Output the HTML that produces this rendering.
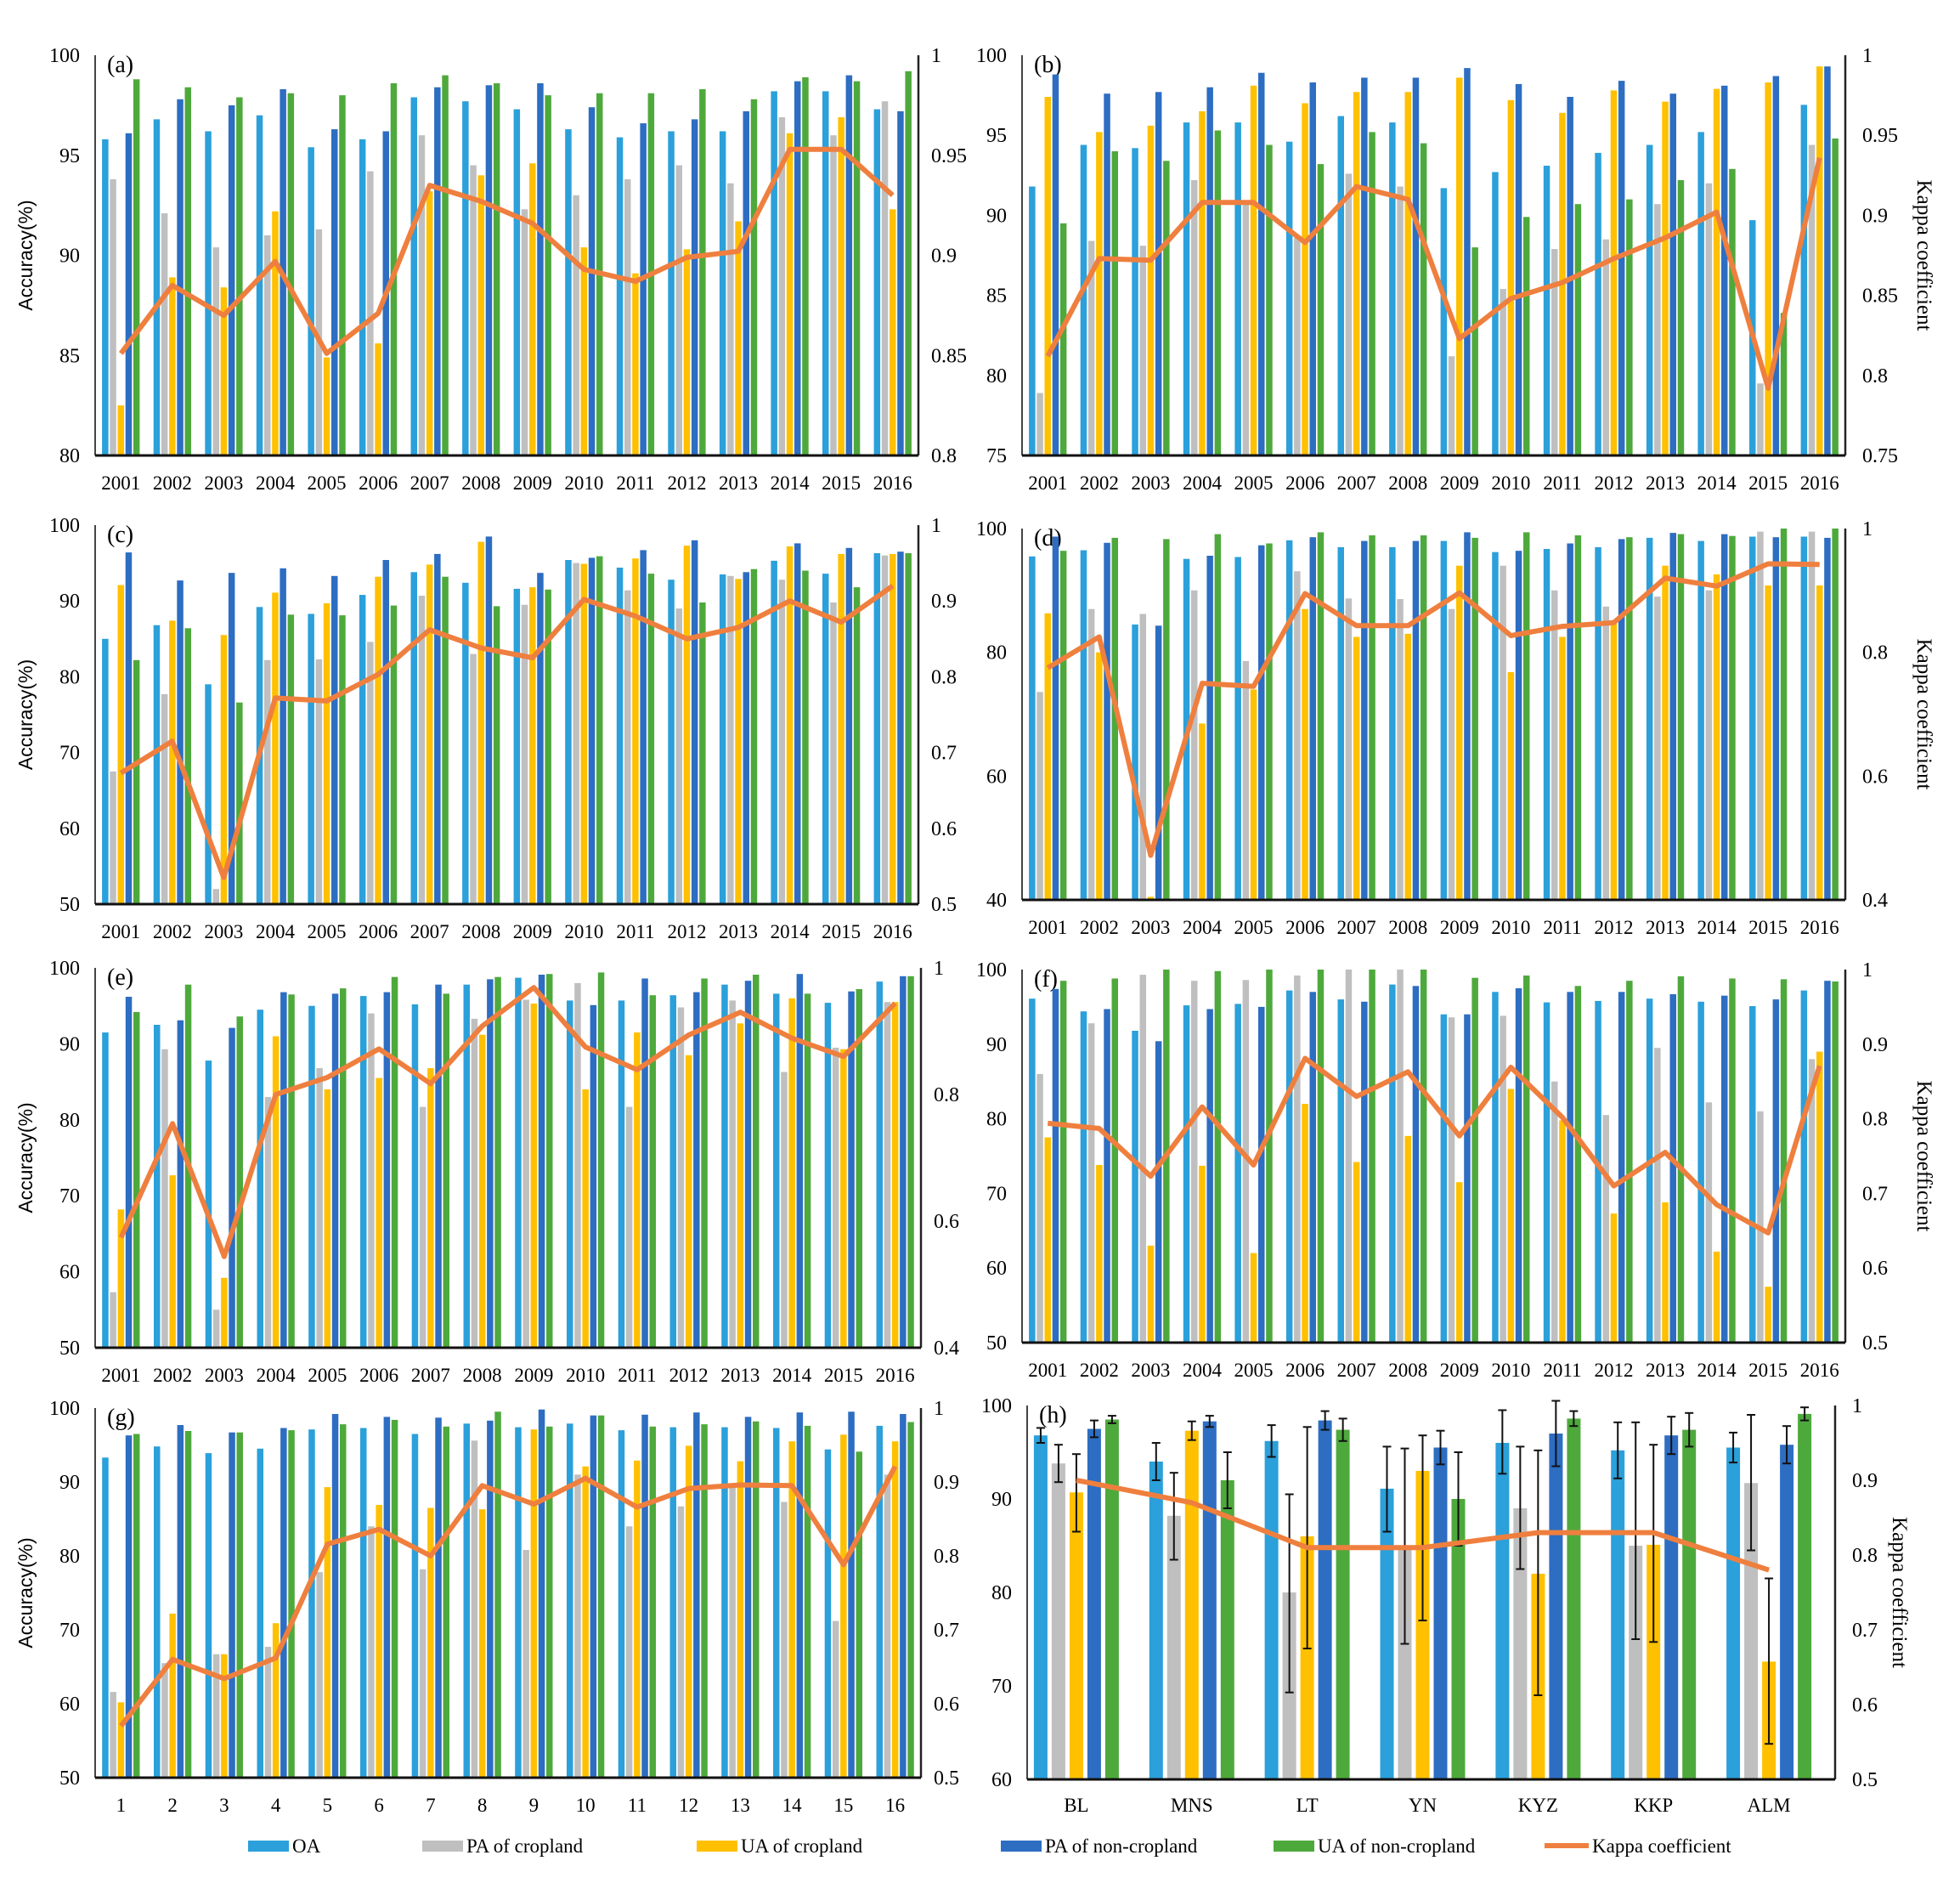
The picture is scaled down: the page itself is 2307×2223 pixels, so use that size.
<!DOCTYPE html>
<html><head><meta charset="utf-8"><style>
html,body{margin:0;padding:0;background:#fff;}
svg{display:block;}
</style></head><body>
<svg id="s" xmlns="http://www.w3.org/2000/svg" width="2307" height="2223" viewBox="0 0 2307 2223"></svg>
<script>
const C=['#2ba0da','#bfbfbf','#ffc000','#2d6dc2','#4ea93c'];
const K='#ef7f3e';
const years=[];for(let i=2001;i<=2016;i++)years.push(''+i);
const P=[
{lab:'(a)',x0:112,x1:1081,t:65,b:536,ymin:80,ymax:100,yt:[80,85,90,95,100],kmin:.8,kmax:1,kt:['0.8','0.85','0.9','0.95','1'],side:'L',cats:years,
d:[[95.8,96.8,96.2,97.0,95.4,95.8,97.9,97.7,97.3,96.3,95.9,96.2,96.2,98.2,98.2,97.3],
[93.8,92.1,90.4,91.0,91.3,94.2,96.0,94.5,92.3,93.0,93.8,94.5,93.6,96.9,96.0,97.7],
[82.5,88.9,88.4,92.2,84.9,85.6,93.2,94.0,94.6,90.4,89.1,90.3,91.7,96.1,96.9,92.3],
[96.1,97.8,97.5,98.3,96.3,96.2,98.4,98.5,98.6,97.4,96.6,96.8,97.2,98.7,99.0,97.2],
[98.8,98.4,97.9,98.1,98.0,98.6,99.0,98.6,98.0,98.1,98.1,98.3,97.8,98.9,98.7,99.2]],
k:[.851,.885,.870,.897,.851,.871,.935,.927,.916,.893,.887,.899,.902,.953,.953,.930]},
{lab:'(b)',x0:1203,x1:2172,t:65,b:536,ymin:75,ymax:100,yt:[75,80,85,90,95,100],kmin:.75,kmax:1,kt:['0.75','0.8','0.85','0.9','0.95','1'],side:'R',cats:years,
d:[[91.8,94.4,94.2,95.8,95.8,94.6,96.2,95.8,91.7,92.7,93.1,93.9,94.4,95.2,89.7,96.9],
[78.9,88.4,88.1,92.2,90.7,88.6,92.6,91.8,81.2,85.4,87.9,88.5,90.7,92.0,79.5,94.4],
[97.4,95.2,95.6,96.5,98.1,97.0,97.7,97.7,98.6,97.2,96.4,97.8,97.1,97.9,98.3,99.3],
[98.8,97.6,97.7,98.0,98.9,98.3,98.6,98.6,99.2,98.2,97.4,98.4,97.6,98.1,98.7,99.3],
[89.5,94.0,93.4,95.3,94.4,93.2,95.2,94.5,88.0,89.9,90.7,91.0,92.2,92.9,83.9,94.8]],
k:[.812,.873,.872,.908,.908,.883,.918,.910,.823,.848,.858,.873,.886,.902,.792,.936]},
{lab:'(c)',x0:112,x1:1081,t:618,b:1064,ymin:50,ymax:100,yt:[50,60,70,80,90,100],kmin:.5,kmax:1,kt:['0.5','0.6','0.7','0.8','0.9','1'],side:'L',cats:years,
d:[[85,86.8,79,89.2,88.3,90.8,93.8,92.4,91.6,95.4,94.4,92.8,93.5,95.3,93.6,96.3],
[67.5,77.7,52,82.2,82.3,84.6,90.7,83,89.5,95,91.4,89,93.3,92.8,89.8,96],
[92.1,87.4,85.5,91.1,89.7,93.2,94.8,97.8,91.8,94.9,95.6,97.3,92.9,97.2,96.2,96.2],
[96.4,92.7,93.7,94.3,93.3,95.4,96.2,98.5,93.7,95.7,96.7,98,93.8,97.6,97,96.5],
[82.2,86.4,76.6,88.2,88.1,89.4,93.2,89.3,91.5,95.9,93.6,89.8,94.2,94,91.8,96.3]],
k:[.673,.715,.535,.772,.768,.803,.862,.838,.825,.902,.880,.850,.865,.900,.872,.920]},
{lab:'(d)',x0:1203,x1:2172,t:622,b:1059,ymin:40,ymax:100,yt:[40,60,80,100],kmin:.4,kmax:1,kt:['0.4','0.6','0.8','1'],side:'R',cats:years,
d:[[95.5,96.5,84.5,95.1,95.4,98.1,97,97,98,96.2,96.7,97,98.5,98,98.7,98.7],
[73.6,87,86.2,90,78.6,93.1,88.7,88.6,87,94,90,87.4,89,90,99.5,99.5],
[86.3,80,40.5,68.5,74,87,82.5,83,94,76.8,82.5,85,94,92.6,90.8,90.8],
[98.7,97.7,84.3,95.6,97.3,98.6,98,98,99.4,96.4,97.6,98.3,99.3,99.1,98.6,98.5],
[96.4,98.5,98.3,99.1,97.6,99.4,98.9,98.9,98.5,99.4,98.9,98.6,99.1,98.8,100,100]],
k:[.775,.825,.472,.750,.745,.895,.843,.843,.896,.827,.842,.848,.920,.907,.943,.942]},
{lab:'(e)',x0:112,x1:1084,t:1139,b:1586,ymin:50,ymax:100,yt:[50,60,70,80,90,100],kmin:.4,kmax:1,kt:['0.4','0.6','0.8','1'],side:'L',cats:years,
d:[[91.5,92.5,87.8,94.5,95,96.3,95.2,97.8,98.7,95.7,95.7,96.4,97.8,96.6,95.4,98.2],
[57.3,89.3,55,83,86.8,94,81.7,93.3,95.8,98,81.7,94.8,95.7,86.3,89.5,95.5],
[68.2,72.7,59.2,91,84,85.5,86.8,91.2,95.3,84,91.5,88.5,92.7,96,89.3,95.5],
[96.2,93.1,92.1,96.8,96.6,96.8,97.8,98.5,99.1,95.1,98.6,96.8,98.3,99.2,96.9,98.9],
[94.2,97.8,93.6,96.5,97.3,98.8,96.6,98.8,99.2,99.4,96.4,98.6,99.1,96.6,97.2,98.9]],
k:[.574,.754,.544,.80,.827,.872,.817,.908,.969,.875,.839,.894,.93,.889,.86,.944]},
{lab:'(f)',x0:1203,x1:2172,t:1141,b:1580,ymin:50,ymax:100,yt:[50,60,70,80,90,100],kmin:.5,kmax:1,kt:['0.5','0.6','0.7','0.8','0.9','1'],side:'R',cats:years,
d:[[96.1,94.4,91.8,95.2,95.4,97.2,96,98,94,97,95.6,95.8,96.1,95.7,95.1,97.2],
[86,92.8,99.3,98.5,98.6,99.2,100,100,93.6,93.8,85,80.5,89.5,82.2,81,88],
[77.5,73.8,63,73.7,62,82,74.2,77.7,71.5,84,79.8,67.3,68.8,62.2,57.5,89],
[97.4,94.7,90.4,94.7,95,97,95.7,97.8,94,97.5,97,97,96.7,96.5,96,98.5],
[98.5,98.8,100,99.8,100,100,100,100,98.9,99.2,97.8,98.5,99.1,98.8,98.7,98.4]],
k:[.794,.787,.723,.816,.738,.881,.830,.863,.777,.869,.802,.71,.755,.685,.647,.871]},
{lab:'(g)',x0:112,x1:1084,t:1657,b:2092,ymin:50,ymax:100,yt:[50,60,70,80,90,100],kmin:.5,kmax:1,kt:['0.5','0.6','0.7','0.8','0.9','1'],side:'L',cats:['1','2','3','4','5','6','7','8','9','10','11','12','13','14','15','16'],
d:[[93.3,94.8,93.9,94.5,97.1,97.3,96.5,97.9,97.4,97.9,97,97.4,97.4,97.3,94.4,97.6],
[61.6,65.5,66.7,67.7,77.8,84,78.2,95.6,80.8,91,84,86.7,89.5,87.3,71.2,91],
[60.2,72.2,66.7,70.9,89.3,86.9,86.5,86.3,97.1,92.1,92.9,94.9,92.8,95.5,96.4,95.5],
[96.3,97.7,96.7,97.3,99.2,98.8,98.7,98.3,99.8,99,99.1,99.4,98.8,99.4,99.5,99.2],
[96.5,96.9,96.7,97,97.8,98.4,97.5,99.5,97.5,99,97.5,97.8,98.2,97.6,94.1,98.1]],
k:[.57,.66,.634,.662,.816,.836,.80,.895,.87,.905,.866,.891,.896,.895,.788,.921]}
];
let o='';
function T(x,y,s,size,anchor,fam,extra){return `<text x="${x}" y="${y}" font-size="${size}" text-anchor="${anchor||'start'}" font-family="${fam||'Liberation Serif, serif'}" ${extra||''}>${s}</text>`;}
function axes(p){
  const Y=v=>p.b-(v-p.ymin)/(p.ymax-p.ymin)*(p.b-p.t);
  o+=`<line x1="${p.x0}" y1="${p.t}" x2="${p.x0}" y2="${p.b}" stroke="#444" stroke-width="2"/>`;
  o+=`<line x1="${p.x1}" y1="${p.t}" x2="${p.x1}" y2="${p.b}" stroke="#222" stroke-width="2.5"/>`;
  p.yt.forEach(v=>{o+=T(p.x0-18,Y(v)+8,v,24,'end');});
  const n=p.kt.length;
  p.kt.forEach((s,i)=>{const y=p.b-i/(n-1)*(p.b-p.t);o+=T(p.x1+(p.side=='L'?15:20),y+8,s,24,'start');});
  o+=T(p.x0+14,p.t+20,p.lab,28,'start');
  const cy=(p.t+p.b)/2;
  if(p.side=='L'){o+=`<text x="0" y="0" font-size="23" font-family="Liberation Sans, sans-serif" text-anchor="middle" transform="translate(38,${cy}) rotate(-90)">Accuracy(%)</text>`;}
  else{const kx=p.lab=='(h)'?2228:2257;o+=`<text x="0" y="0" font-size="25" font-family="Liberation Serif, serif" text-anchor="middle" transform="translate(${kx},${cy}) rotate(90)">Kappa coefficient</text>`;}
  return Y;
}
P.forEach(p=>{
  const Y=axes(p);
  const n=16,gw=(p.x1-p.x0)/n,bw=7.5,pitch=9.2;
  for(let g=0;g<n;g++){
    const cx=p.x0+gw*(g+.5);
    for(let s=0;s<5;s++){
      const v=p.d[s][g];const x=cx+(s-2)*pitch-bw/2;const y=Y(Math.min(v,p.ymax));
      if(v>p.ymin)o+=`<rect x="${x.toFixed(1)}" y="${y.toFixed(1)}" width="${bw}" height="${(p.b-y).toFixed(1)}" fill="${C[s]}"/>`;
    }
    o+=T(cx,p.b+40,p.cats[g],23,'middle');
  }
  o+=`<line x1="${p.x0}" y1="${p.b}" x2="${p.x1}" y2="${p.b}" stroke="#111" stroke-width="3"/>`;
  const pts=p.k.map((k,g)=>`${(p.x0+gw*(g+.5)).toFixed(1)},${(p.b-(k-p.kmin)/(p.kmax-p.kmin)*(p.b-p.t)).toFixed(1)}`).join(' ');
  o+=`<polyline points="${pts}" fill="none" stroke="${K}" stroke-width="6" stroke-linejoin="round"/>`;
});
// panel h
(function(){
  const p={lab:'(h)',x0:1209,x1:2160,t:1654,b:2094,ymin:60,ymax:100,yt:[60,70,80,90,100],kmin:.5,kmax:1,kt:['0.5','0.6','0.7','0.8','0.9','1'],side:'R'};
  const Y=axes(p);
  const cats=['BL','MNS','LT','YN','KYZ','KKP','ALM'];
  const d=[
  [[96.8,96,97.6],[93.8,91.8,95.8],[90.7,86.5,94.8],[97.5,96.6,98.4],[98.5,98.1,98.9]],
  [[94,92,96],[88.2,83.5,92.8],[97.3,96.3,98.3],[98.3,97.7,98.9],[92,89,95]],
  [[96.2,94.5,97.9],[80,69.3,90.5],[86,74,97.7],[98.4,97.4,99.4],[97.4,96.2,98.6]],
  [[91.1,86.5,95.6],[85,74.5,95.4],[93,77,96.8],[95.5,93.7,97.3],[90,85,95]],
  [[96,92.7,99.5],[89,82.5,95.6],[82,69,95.2],[97,93.5,100.5],[98.6,97.8,99.4]],
  [[95.2,92.2,98.2],[85,75,98.2],[85.1,74.7,95.8],[96.8,94.8,98.8],[97.4,95.6,99.2]],
  [[95.5,93.9,97.1],[91.7,84.5,99],[72.6,63.8,81.5],[95.8,93.8,97.8],[99.1,98.4,99.8]]];
  const k=[.90,.87,.81,.81,.83,.83,.78];
  const gw=(p.x1-p.x0)/7,bw=16,pitch=21;
  const xs=[];
  for(let g=0;g<7;g++){
    const cx=p.x0+gw*(g+.5)-10;xs.push(cx);
    for(let s=0;s<5;s++){
      const [v,lo,hi]=d[g][s];const x=cx+(s-2)*pitch-bw/2;const y=Y(v);
      o+=`<rect x="${x.toFixed(1)}" y="${y.toFixed(1)}" width="${bw}" height="${(p.b-y).toFixed(1)}" fill="${C[s]}"/>`;
    }
    for(let s=0;s<5;s++){
      const [v,lo,hi]=d[g][s];const x=cx+(s-2)*pitch;const y1=Y(Math.min(hi,100.5)),y2=Y(lo);
      o+=`<g stroke="#111" stroke-width="2"><line x1="${x}" y1="${y1}" x2="${x}" y2="${y2}"/><line x1="${x-5}" y1="${y1}" x2="${x+5}" y2="${y1}"/><line x1="${x-5}" y1="${y2}" x2="${x+5}" y2="${y2}"/></g>`;
    }
    o+=T(cx,p.b+38,cats[g],23,'middle');
  }
  o+=`<line x1="${p.x0}" y1="${p.b}" x2="${p.x1}" y2="${p.b}" stroke="#111" stroke-width="3"/>`;
  const pts=k.map((v,g)=>`${xs[g].toFixed(1)},${(p.b-(v-p.kmin)/(p.kmax-p.kmin)*(p.b-p.t)).toFixed(1)}`).join(' ');
  o+=`<polyline points="${pts}" fill="none" stroke="${K}" stroke-width="6" stroke-linejoin="round"/>`;
})();
// legend
const L=[[292,C[0],'OA'],[497,C[1],'PA of cropland'],[820,C[2],'UA of cropland'],[1178,C[3],'PA of non-cropland'],[1499,C[4],'UA of non-cropland']];
L.forEach(([x,c,s])=>{o+=`<rect x="${x}" y="2166" width="48" height="13" fill="${c}"/>`;o+=T(x+52,2180,s,23,'start');});
o+=`<line x1="1818" y1="2172" x2="1870" y2="2172" stroke="${K}" stroke-width="6"/>`;
o+=T(1874,2180,'Kappa coefficient',23,'start');
document.getElementById('s').innerHTML=o;
</script>
</body></html>
